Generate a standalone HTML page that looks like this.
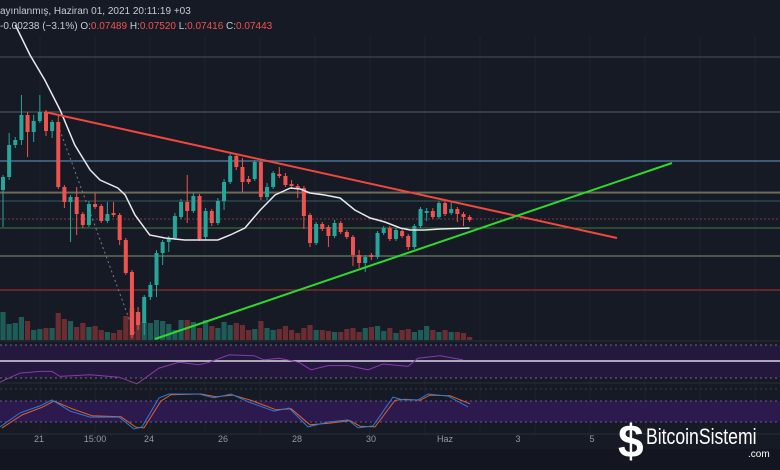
<!DOCTYPE html>
<html><head><meta charset="utf-8"><style>
html,body{margin:0;padding:0;background:#161a25;}
#wrap{position:relative;width:780px;height:470px;overflow:hidden;background:#161a25;font-family:"Liberation Sans","Noto Sans CJK JP",sans-serif;}
.hdr{position:absolute;left:0;font-size:10px;color:#c8cbd3;white-space:nowrap}
.r{color:#ef5350}
</style></head><body>
<div id="wrap">
<svg id="chart" width="780" height="470" style="position:absolute;left:0;top:0"></svg>
<div class="hdr" style="top:6px">ayınlanmış, Haziran 01, 2021 20:11:19 +03</div>
<div class="hdr" style="top:21px">-0.00238 (−3.1%) O:<span class="r">0.07489</span> H:<span class="r">0.07520</span> L:<span class="r">0.07416</span> C:<span class="r">0.07443</span></div>
<div style="position:absolute;left:618px;top:420px;color:#fff;">
 <span style="position:absolute;left:0;top:-6px;font-size:46px;font-weight:bold;font-family:'Liberation Sans',sans-serif;">$</span>
 <span style="position:absolute;left:28px;top:4px;font-size:22px;white-space:nowrap;transform:scaleX(0.8);transform-origin:0 0;">BitcoinSistemi</span>
 <span style="position:absolute;left:130px;top:29px;font-size:10px">.com</span>
</div>
</div>
<script>
const opens=[210,223,255,260,285,268,279,288,269,278,213,198,203,186,175,196,194,179,187,185,160,128,88,77,103,115,147,158,162,183,198,189,204,163,189,177,199,218,244,233,221,221,238,203,213,226,224,216,214,212,185,157,176,173,164,177,168,163,145,137,145,143,167,172,161,169,164,153,174,187,189,183,197,187,191,186,183];
const closes=[223,255,260,285,268,279,288,269,278,213,198,203,186,175,196,193,179,186,185,160,127,65,75,103,115,147,158,162,184,198,189,204,161,189,177,199,218,244,233,218,218,238,203,213,227,224,215,214,212,184,157,176,171,164,177,168,163,145,137,143,143,167,172,161,170,164,153,174,191,189,183,197,186,191,186,183,180];
const highs=[225,267,263,305,288,285,305,290,280,284,215,205,213,188,199,207,196,198,198,187,162,130,93,105,118,150,160,164,187,201,225,207,206,192,191,202,221,246,246,242,224,240,240,217,229,233,227,220,216,214,187,178,178,175,180,179,170,165,150,145,147,169,174,174,172,171,166,176,193,192,192,199,199,198,193,188,185];
const lows=[173,220,252,255,243,258,277,264,262,211,192,158,165,172,173,191,177,177,183,155,125,62,70,65,100,103,135,148,160,181,177,187,159,160,174,175,190,216,230,208,216,219,200,200,211,222,213,211,202,171,153,155,169,153,162,166,161,134,132,128,140,141,165,159,159,162,150,151,172,179,181,181,184,185,178,174,178];
const volumes=[28,16,17,23,19,10,11,12,12,27,21,19,13,17,13,14,10,8,7,10,24,32,28,18,17,20,19,16,10,20,20,18,12,20,14,12,18,15,17,15,10,11,19,12,10,11,14,10,7,12,15,10,10,9,8,8,11,12,8,12,13,14,9,12,7,10,11,8,10,14,10,8,10,8,8,7,3];
const maIdx=[2,4.4,6.8,9.3,11.7,14.2,15.8,18.7,19.9,21.5,23.9,26.4,29.6,32.9,35,37,39.4,41.9,44.3,46.8,48.4,50,52.4,54.9,57.3,59.8,62.2,64.7,66.3,68.7,71.2,76];
const maVal=[375,345,320,290,255,230,220,212,205,185,165,162,160,160,160,165,172,190,205,212,211,207,205,202,190,182,178,172,170,170,171,172];
const rsiX=[0,20,40,52,60,90,119,137,159,179,199,209,229,254,264,279,299,311,328,348,368,383,408,418,440,463];
const rsiVal=[25,36,38,38,32,34,31,23,42,49,46,49,58,57,52,54,49,40,45,45,40,47,44,54,57,52];
const stochX=[0,20,40,52,70,90,119,134,142,159,169,199,214,231,249,274,289,308,328,348,358,373,393,403,418,428,448,468];
const stochK=[6,46,66,83,51,34,34,0,6,89,100,100,89,100,77,51,60,6,20,26,3,9,91,83,83,100,94,63];
const stochD=[3,40,62,80,58,38,35,5,3,80,98,100,92,97,82,55,58,12,17,24,8,6,82,85,82,97,95,72];
const xLabels=["21","15:00","24","26","28","30","Haz","3","5"];
const xLabelPos=[39,95,149,223,297,371,445,518,592];

const NS="http://www.w3.org/2000/svg";
const svg=document.getElementById('chart');
function xScale(i){return 3+i*6.14;}
function yScale(v){return 400-v;}
function volY(v){return 340-v;}
function rsiY(v){return 378-(v-30)*0.825;}
function stochY(v){return 429-v*0.35;}
function mk(tag,attrs){const e=document.createElementNS(NS,tag);for(const k in attrs)e.setAttribute(k,attrs[k]);svg.appendChild(e);return e;}

[40,95,150,205,260,315,370,425,480,535,590,645,700,755].forEach(x=>{const l=mk('line',{x1:x,y1:36,x2:x,y2:434,stroke:'#1e2230','stroke-width':1});

});
let p=mk('rect',{x:0,y:345,width:780,height:33,fill:'#25183f'});


p=mk('rect',{x:0,y:401,width:780,height:21,fill:'#2c1a4e'});


[[345,'#6a6a80'],[378,'#6a6a80'],[401,'#6a5a90'],[422,'#6a5a90'],[389,'#3a3e4e']].forEach(a=>{const l=mk('line',{x1:0,y1:a[0],x2:780,y2:a[0],stroke:a[1],'stroke-dasharray':'2,3'});

});
p=mk('line',{x1:0,y1:341,x2:780,y2:341,stroke:'#2a2e39'});


p=mk('line',{x1:0,y1:383,x2:780,y2:383,stroke:'#2a2e39'});


p=mk('line',{x1:0,y1:434,x2:780,y2:434,stroke:'#2a2e39'});


p=mk('rect',{x:0,y:449,width:780,height:21,fill:'#131620'});


p=mk('line',{x1:0,y1:361,x2:780,y2:361,stroke:'#d8d8e0','stroke-width':1.5});



[[57,'#4a4e5a',1],[112,'#5a5e6a',1],[161,'#3d5a78',2],[192,'#5a5e6a',1],[193,'#7a7a4a',1],[201,'#2e5f5f',1],[228,'#3f7a3f',1],[256,'#48584a',2],[290,'#7a2a2a',1.5]].forEach(a=>{const l=mk('line',{x1:0,y1:a[0],x2:780,y2:a[0],stroke:a[1],'stroke-width':a[2]});

});
p=mk('line',{x1:0,y1:219,x2:780,y2:219,stroke:'#7a3a3a','stroke-dasharray':'2,2'});



volumes.forEach((v,i)=>{const up=closes[i]>=opens[i];const r=mk('rect',{x:xScale(i)-2.6,y:volY(v),width:5.2,height:v,fill:up?'#1f5c58':'#6b2d31'});

});

p=mk('line',{x1:58,y1:125,x2:135,y2:335,stroke:'#7a7e8a','stroke-dasharray':'2,3'});



opens.forEach((o,i)=>{const c=closes[i];const up=c>=o;const col=up?'#26a69a':'#ef5350';const x=xScale(i);
const w=mk('line',{x1:x,y1:yScale(highs[i]),x2:x,y2:yScale(lows[i]),stroke:col,'stroke-width':1});


const top=yScale(Math.max(o,c)),h=Math.max(1,Math.abs(o-c));
const b=mk('rect',{x:x-2,y:top,width:4,height:h,fill:col});

});

let d=maIdx.map((ix,k)=>(k?'L':'M')+xScale(ix).toFixed(1)+','+yScale(maVal[k])).join(' ');
p=mk('path',{d:d,fill:'none',stroke:'#e8e8ee','stroke-width':1.5});



p=mk('line',{x1:45,y1:112,x2:617,y2:238,stroke:'#f0483e','stroke-width':2});


p=mk('line',{x1:155,y1:339,x2:672,y2:163,stroke:'#2ed82e','stroke-width':2});



d=rsiX.map((x,k)=>(k?'L':'M')+x+','+rsiY(rsiVal[k]).toFixed(1)).join(' ');
p=mk('path',{d:d,fill:'none',stroke:'#8a3aa8','stroke-width':1});


d=stochX.map((x,k)=>(k?'L':'M')+(x+2)+','+stochY(stochD[k]).toFixed(1)).join(' ');
p=mk('path',{d:d,fill:'none',stroke:'#e0602a','stroke-width':1});


d=stochX.map((x,k)=>(k?'L':'M')+x+','+stochY(stochK[k]).toFixed(1)).join(' ');
p=mk('path',{d:d,fill:'none',stroke:'#2a7ad8','stroke-width':1});



xLabels.forEach((t,k)=>{const e=mk('text',{x:xLabelPos[k],y:442,fill:'#9598a1','font-size':'9','text-anchor':'middle','font-family':'Liberation Sans, sans-serif'});e.textContent=t;

});
</script>
</body></html>
